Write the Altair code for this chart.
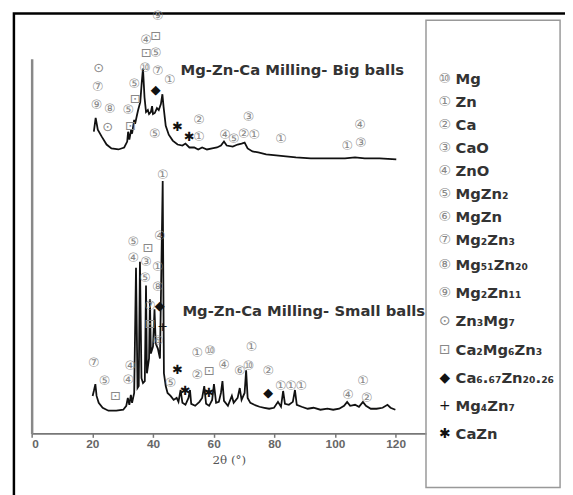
import altair as alt
import pandas as pd

# ---------------- data ----------------
# Big balls pattern (2-theta in degrees, intensity in arbitrary units, offset trace)
big_theta = [20.5, 21.1, 21.8, 23.1, 24.7, 26.3, 28.6, 30.5, 31.5, 31.8, 32.2, 32.8, 33.1, 33.8,
             34.1, 34.8, 35.1, 35.8, 36.3, 36.7, 37.2, 37.7, 38.3, 38.7, 39.3, 39.7, 40.0, 40.6,
             41.3, 41.9, 42.6, 43.1, 43.5, 44.2, 45.2, 46.5, 48.1, 49.7, 50.7, 52.0, 53.6, 54.9,
             56.2, 57.8, 59.5, 61.1, 62.4, 63.4, 64.3, 66.3, 67.9, 69.2, 70.2, 71.2, 72.8, 74.7,
             77.3, 80.6, 83.8, 87.1, 92.0, 96.8, 103.3, 106.6, 109.8, 114.7, 120.2]
big_int = [306, 320, 308, 301, 293, 289, 288, 290, 296, 306, 298, 308, 304, 318,
           314, 324, 328, 336, 356, 370, 341, 326, 328, 324, 326, 332, 324, 325,
           330, 328, 334, 344, 331, 312, 303, 297, 293, 292, 294, 290, 290, 288,
           290, 288, 289, 290, 292, 296, 292, 291, 293, 294, 295, 289, 286, 285,
           283, 282, 281, 280, 279, 279, 279, 280, 279, 279, 278]

# Small balls pattern
small_theta = [20.1, 20.5, 21.0, 21.4, 22.1, 23.4, 25.3, 27.9, 30.2, 31.2, 31.7, 32.2, 32.7, 33.1,
               33.8, 34.4, 34.9, 35.3, 35.7, 36.2, 36.7, 37.3, 37.7, 38.0, 38.7, 39.0, 39.3, 40.0,
               40.5, 40.9, 41.6, 42.3, 43.2, 43.6, 44.2, 44.8, 45.8, 46.8, 47.8, 48.4, 49.1, 49.7,
               50.7, 51.7, 52.2, 52.6, 53.9, 55.3, 56.2, 56.9, 57.5, 58.5, 59.5, 60.1, 60.8, 61.7,
               62.4, 62.9, 63.4, 64.7, 66.0, 66.6, 67.9, 68.6, 69.2, 70.2, 70.7, 71.2, 72.1, 73.4,
               75.1, 76.7, 78.3, 79.9, 81.2, 82.2, 82.9, 83.5, 84.8, 86.1, 86.8, 87.4, 89.0, 91.0,
               92.9, 95.2, 97.5, 99.4, 101.4, 103.0, 104.0, 105.0, 106.6, 107.9, 109.2, 110.2,
               111.8, 113.7, 115.7, 117.3, 118.3, 119.9]
small_int = [38, 43, 50, 38, 31, 26, 23, 23, 24, 28, 36, 29, 39, 31,
             41, 168, 46, 48, 174, 56, 51, 53, 150, 61, 76, 136, 81, 88,
             126, 91, 86, 76, 256, 61, 48, 41, 38, 34, 36, 32, 44, 31,
             29, 36, 44, 30, 28, 32, 36, 48, 30, 28, 34, 50, 31, 32,
             41, 53, 33, 28, 38, 31, 36, 46, 34, 41, 64, 36, 31, 29,
             27, 26, 25, 26, 32, 27, 43, 30, 29, 32, 44, 29, 27, 25,
             26, 24, 25, 24, 25, 28, 32, 28, 29, 27, 32, 28,
             25, 25, 26, 29, 26, 24]

# Phase markers placed on the patterns
mark_sym = ["⊙", "⑦", "⑨", "⑧", "⊙", "⑤", "⊡", "⑤", "⊡", "⑨", "⊡", "④", "⊡", "⑤", "⑩", "⑦",
            "①", "◆", "⑤", "✱", "✱", "①", "②", "③", "④", "⑤", "②", "①", "①", "④", "①", "③",
            "①", "⑤", "⊡", "④", "④", "③", "①", "⑤", "⑧", "⑦", "◆", "⊡", "+", "⑥", "⑦", "⑤",
            "⊡", "④", "④", "⑤", "✱", "✱", "✱", "②", "⊡", "④", "①", "⑩", "⑥", "⑩", "①", "②",
            "◆", "①", "①", "①", "①", "④", "②"]
mark_theta = [22.1, 21.8, 21.4, 25.7, 25.0, 31.8, 32.5, 33.8, 34.1, 41.6, 40.9, 37.7, 37.7, 40.9,
              37.4, 41.6, 45.5, 40.9, 40.6, 48.1, 52.0, 55.2, 55.2, 71.5, 63.7, 66.6, 69.9, 73.4,
              82.2, 108.2, 104.0, 108.5,
              43.2, 33.5, 38.3, 42.2, 33.5, 37.7, 41.6, 37.4, 41.6, 39.0, 42.2, 39.0, 43.2, 41.6,
              20.5, 24.0, 27.6, 32.5, 31.8, 45.8, 48.1, 50.7, 58.5, 54.6, 58.5, 63.4, 54.6, 58.8,
              68.6, 71.5, 72.5, 78.0, 78.0, 82.1, 85.5, 88.9, 109.2, 104.3, 110.5]
mark_int = [371, 351, 333, 329, 311, 328, 312, 354, 339, 423, 403, 399, 386, 386,
            371, 368, 358, 348, 304, 311, 301, 301, 318, 321, 303, 299, 304, 303,
            299, 313, 291, 294,
            262, 194, 188, 200, 178, 174, 169, 158, 148, 129, 129, 111, 108, 94,
            71, 53, 38, 68, 54, 51, 64, 43, 41, 59, 63, 69, 81, 84,
            63, 68, 88, 63, 41, 48, 48, 48, 53, 39, 36]

# Sample captions
caption_text = ["Mg-Zn-Ca Milling- Big balls", "Mg-Zn-Ca Milling- Small balls"]
caption_theta = [49.1, 49.7]
caption_int = [369, 124]

# Legend
legend_sym = ["⑩", "①", "②", "③", "④", "⑤", "⑥", "⑦", "⑧", "⑨", "⊙", "⊡", "◆", "+", "✱"]
legend_name = ["Mg", "Zn", "Ca", "CaO", "ZnO", "MgZn₂", "MgZn", "Mg₂Zn₃", "Mg₅₁Zn₂₀",
               "Mg₂Zn₁₁", "Zn₃Mg₇", "Ca₂Mg₆Zn₃", "Ca₆.₆₇Zn₂₀.₂₆", "Mg₄Zn₇", "CaZn"]

x_ticks = list(range(0, 130, 10))

# ---------------- chart ----------------
df_big = pd.DataFrame({"theta": big_theta, "I": big_int})
df_small = pd.DataFrame({"theta": small_theta, "I": small_int})
df_marks = pd.DataFrame({"theta": mark_theta, "I": mark_int, "s": mark_sym})
df_cap = pd.DataFrame({"theta": caption_theta, "I": caption_int, "t": caption_text})
df_leg = pd.DataFrame({"row": list(range(len(legend_sym))), "sym": legend_sym, "name": legend_name})

xs = alt.Scale(domain=[0, 130], nice=False, zero=False)
ys = alt.Scale(domain=[0, 380], nice=False, zero=False)

X = alt.X("theta:Q", scale=xs, axis=alt.Axis(
    values=x_ticks, labelExpr="datum.value % 20 == 0 ? datum.label : ''",
    title="2θ (°)", grid=False, domainColor="#777", domainWidth=2, tickColor="#777",
    tickWidth=1.5, tickSize=4, labelPadding=1, labelFont="Liberation Sans", labelFontSize=12,
    labelFontWeight="bold", labelColor="#666", titleFont="DejaVu Serif", titleFontSize=12,
    titleFontWeight="normal", titleColor="#555", titlePadding=6))
Y = alt.Y("I:Q", scale=ys, axis=alt.Axis(labels=False, ticks=False, title=None, grid=False,
                                          domainColor="#888", domainWidth=2.5))

big = alt.Chart(df_big).mark_line(color="#111", strokeWidth=1.8, clip=False).encode(x=X, y=Y)
small = alt.Chart(df_small).mark_line(color="#111", strokeWidth=1.8, clip=False).encode(
    x=alt.X("theta:Q", scale=xs), y=alt.Y("I:Q", scale=ys))

marks = alt.Chart(df_marks).mark_text(fontSize=13, font="DejaVu Sans", clip=False).encode(
    x=alt.X("theta:Q", scale=xs), y=alt.Y("I:Q", scale=ys), text="s:N",
    color=alt.condition("indexof('◆✱+', datum.s) >= 0", alt.value("#111"), alt.value("#888")))

caps = alt.Chart(df_cap).mark_text(fontSize=15, font="DejaVu Sans", fontWeight="bold",
                                   color="#333", align="left", clip=False).encode(
    x=alt.X("theta:Q", scale=xs), y=alt.Y("I:Q", scale=ys), text="t:N")

main = alt.layer(big, small, marks, caps)

one = alt.Data(values=[{"a": 1}])
frame = alt.Chart(one).mark_rect(fill="transparent", stroke="#000", strokeWidth=2.5, clip=False).encode(
    x=alt.value(-18), x2=alt.value(800), y=alt.value(-46), y2=alt.value(800))
box = alt.Chart(one).mark_rect(fill="transparent", stroke="#999", strokeWidth=1.5, clip=False).encode(
    x=alt.value(400), x2=alt.value(536), y=alt.value(-39), y2=alt.value(435))

ly = alt.Scale(domain=[0, 7, 8, 14], range=[21, 184, 209, 381])
leg_sym = alt.Chart(df_leg).mark_text(fontSize=14, font="DejaVu Sans", clip=False).encode(
    x=alt.value(419), y=alt.Y("row:Q", scale=ly, axis=None), text="sym:N",
    color=alt.condition("indexof('◆✱+', datum.sym) >= 0", alt.value("#111"), alt.value("#888")))
leg_txt = alt.Chart(df_leg).mark_text(fontSize=15, font="DejaVu Sans", fontWeight="bold",
                                      color="#333", align="left", clip=False).encode(
    x=alt.value(430), y=alt.Y("row:Q", scale=ly, axis=None), text="name:N")
legend = alt.layer(leg_sym, leg_txt)

chart = alt.layer(frame, box, main, legend).resolve_scale(y="independent").properties(
    width=400, height=380,
    padding={"left": 24, "top": 48, "right": 141, "bottom": 59},
    autosize=alt.AutoSizeParams(type="none"),
).configure_view(stroke=None)

chart.save("out.html", embed_options={"renderer": "svg", "actions": False})
